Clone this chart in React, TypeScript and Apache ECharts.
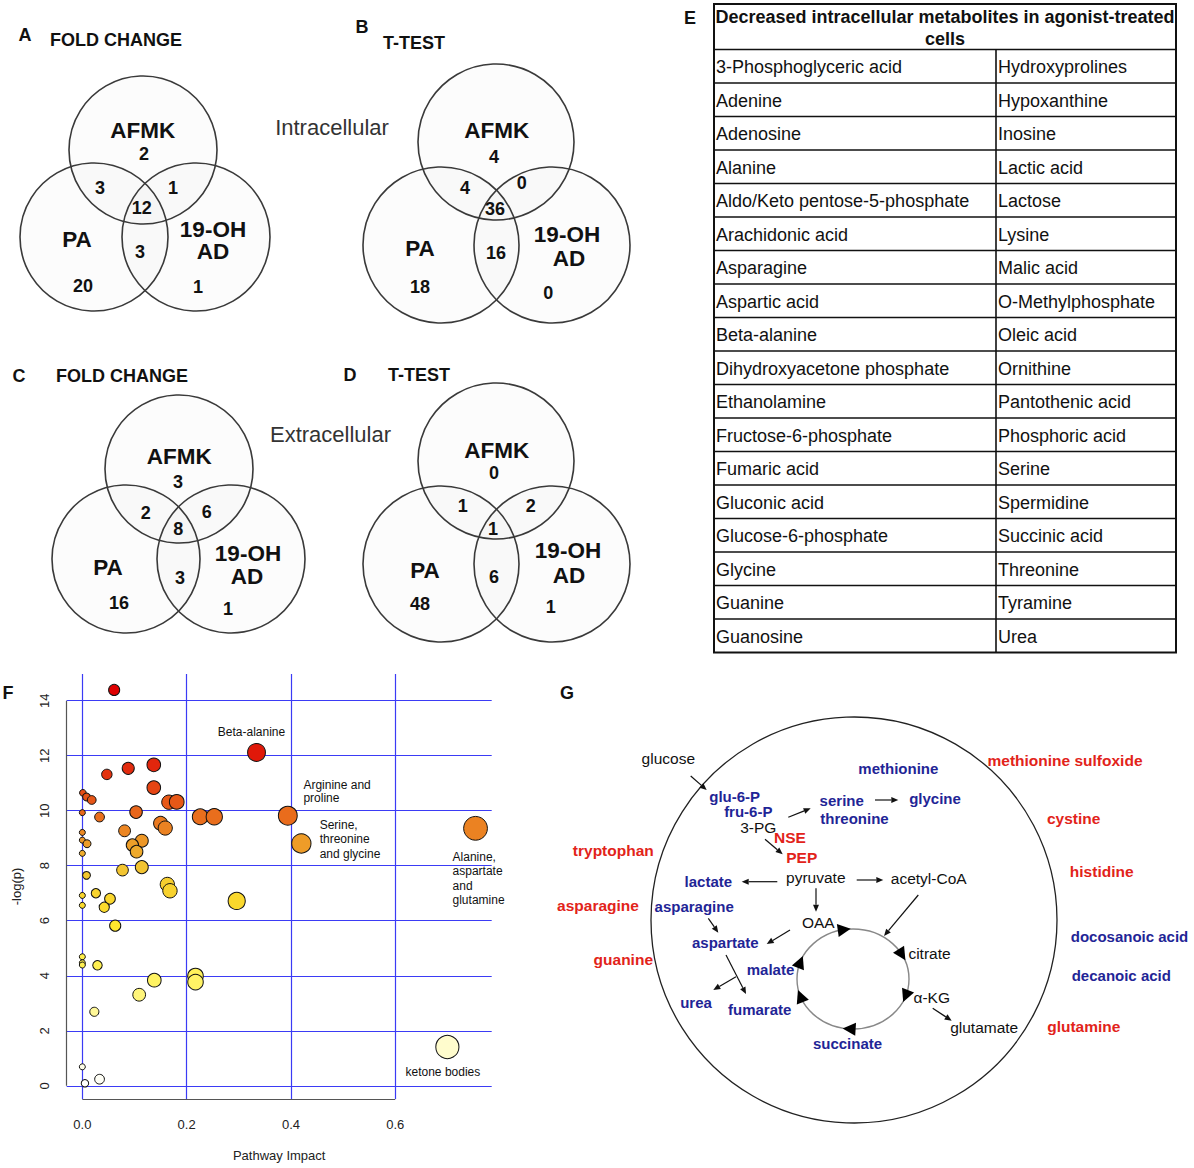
import React, { useEffect, useRef } from "react";
import * as echarts from "echarts";

const FONT = '"Liberation Sans", Arial, Helvetica, sans-serif';
const BLUE = "#1f2596";
const RED = "#e2231a";

// ---------- Panel F: pathway impact scatter ----------
const impact = [
  0.061, 0.047, 0.088, 0.137, 0.137, 0.166, 0.181, 0.001, 0.008, 0.018,
  0.0, 0.033, 0.103, 0.226, 0.253, 0.15, 0.159, 0.081, 0.0, 0.0,
  0.009, 0.114, 0.096, 0.104, 0.0, 0.077, 0.114, 0.008, 0.163, 0.168,
  0.0, 0.026, 0.053, 0.296, 0.0, 0.042, 0.063, 0.0, 0.0, 0.0,
  0.029, 0.138, 0.109, 0.217, 0.217, 0.023, 0.0, 0.005, 0.033,
];
const negLogP = [
  14.39, 11.32, 11.54, 11.67, 10.84, 10.31, 10.32, 10.65, 10.5, 10.39,
  9.93, 9.77, 9.95, 9.78, 9.78, 9.54, 9.37, 9.27, 9.21, 8.93,
  8.8, 8.91, 8.75, 8.51, 8.45, 7.84, 7.95, 7.65, 7.32, 7.09,
  6.92, 7.0, 6.8, 6.72, 6.56, 6.49, 5.82, 4.69, 4.47, 4.39,
  4.38, 3.84, 3.31, 3.99, 3.77, 2.69, 0.69, 0.09, 0.24,
];
const namedPathways = [
  "Beta-alanine",
  "Arginine and\nproline",
  "Serine,\nthreonine\nand glycine",
  "Alanine,\naspartate\nand\nglutamine",
  "ketone bodies",
];
const namedImpact = [0.334, 0.394, 0.42, 0.754, 0.7];
const namedNegLogP = [12.12, 9.82, 8.81, 9.36, 1.41];
const xTicks = [0, 0.2, 0.4, 0.6];
const yTicks = [0, 2, 4, 6, 8, 10, 12, 14];

// label placement (style only)
const namedLabelStyle = [
  { align: "center", offset: [-5, -20], lineHeight: 13 },
  { align: "left", offset: [15.6, -24], lineHeight: 13.3 },
  { align: "left", offset: [18.3, -4], lineHeight: 14.2 },
  { align: "left", offset: [-23, 50], lineHeight: 14.4 },
  { align: "center", offset: [-4.5, 25.3], lineHeight: 13 },
];

// ---------- Venn panels A-D ----------
// order: AFMK only, AFMK∩PA, AFMK∩19-OH AD, all three, PA∩19-OH AD, PA only, 19-OH AD only
const vennA = [2, 3, 1, 12, 3, 20, 1];
const vennB = [4, 4, 0, 36, 16, 18, 0];
const vennC = [3, 2, 6, 8, 3, 16, 1];
const vennD = [0, 1, 2, 1, 6, 48, 1];
const vennSetNames = ["AFMK", "PA", "19-OH", "AD"];
const vennTitles = ["FOLD CHANGE", "T-TEST", "FOLD CHANGE", "T-TEST"];
const vennLetters = ["A", "B", "C", "D"];

// ---------- Table E ----------
const tableTitle = ["Decreased intracellular metabolites in agonist-treated", "cells"];
const tableLeft = [
  "3-Phosphoglyceric acid", "Adenine", "Adenosine", "Alanine",
  "Aldo/Keto pentose-5-phosphate", "Arachidonic acid", "Asparagine",
  "Aspartic acid", "Beta-alanine", "Dihydroxyacetone phosphate",
  "Ethanolamine", "Fructose-6-phosphate", "Fumaric acid", "Gluconic acid",
  "Glucose-6-phosphate", "Glycine", "Guanine", "Guanosine",
];
const tableRight = [
  "Hydroxyprolines", "Hypoxanthine", "Inosine", "Lactic acid", "Lactose",
  "Lysine", "Malic acid", "O-Methylphosphate", "Oleic acid", "Ornithine",
  "Pantothenic acid", "Phosphoric acid", "Serine", "Spermidine",
  "Succinic acid", "Threonine", "Tyramine", "Urea",
];

// ---------- Panel G ----------
const gDecreased = ["glu-6-P", "fru-6-P", "serine", "threonine", "glycine", "methionine",
  "lactate", "asparagine", "aspartate", "malate", "urea", "fumarate", "succinate",
  "docosanoic acid", "decanoic acid"];
const gIncreased = ["NSE", "PEP", "tryptophan", "asparagine", "guanine",
  "methionine sulfoxide", "cystine", "histidine", "glutamine"];
const gNeutral = ["glucose", "3-PG", "pyruvate", "acetyl-CoA", "OAA", "citrate", "α-KG", "glutamate"];

// layout positions (x, y centres)
const gDecreasedPos = [
  [734.7, 796], [748.3, 811], [841.7, 800], [854.5, 818.3], [935, 798.3], [898.3, 768.3],
  [708.3, 881.7], [694.2, 906], [725.3, 942.3], [770.5, 969.3], [696, 1002.3], [759.7, 1009.3],
  [847.5, 1043.3], [1129.5, 936.7], [1121.3, 975],
];
const gIncreasedPos = [
  [790, 837.3], [801.7, 857.3], [613.3, 850], [598, 905], [623.3, 959.3],
  [1065, 760.7], [1073.7, 818.3], [1101.7, 871.7], [1083.8, 1026.7],
];
const gNeutralPos = [
  [668.3, 758.3], [758.3, 827.3], [815.8, 877.3], [928.7, 878.3], [818.3, 922.7],
  [929.5, 953.3], [931.7, 997.7], [984.2, 1027.3],
];
const gArrows = [
  [690.7, 776, 706.7, 790], [788.3, 817.3, 810.7, 808.3], [875, 800, 898.3, 800],
  [765, 839.3, 782.7, 854.3], [777.3, 881.7, 741.7, 881.7], [856.7, 880, 883.3, 880],
  [918.3, 895, 884, 936], [816, 888.3, 816, 911.7], [790, 930, 766.7, 944],
  [708.3, 918.3, 718.3, 932.7], [726, 955, 746, 994], [736, 976.7, 713.3, 990],
  [932.7, 1008.3, 951.7, 1020.7],
];
const tcaArrowAngles = [-99, -29, 20, 94, 160, 200];

function text(x: number, y: number, t: string, o: any = {}) {
  const align = o.align || "center";
  const va = o.va || "middle";
  return {
    type: "text",
    x,
    y,
    silent: true,
    z: 10,
    style: {
      text: t,
      fontSize: o.size || 16,
      fontWeight: o.weight || "normal",
      fontFamily: FONT,
      fill: o.color || "#111",
      textAlign: align,
      textVerticalAlign: va,
      align,
      verticalAlign: va,
      lineHeight: o.lineHeight,
    },
  };
}

function line(x1: number, y1: number, x2: number, y2: number, stroke = "#111", lw = 1.2) {
  return { type: "line", silent: true, shape: { x1, y1, x2, y2 }, style: { stroke, lineWidth: lw } };
}

function arrow(x1: number, y1: number, x2: number, y2: number) {
  const dx = x2 - x1, dy = y2 - y1;
  const len = Math.sqrt(dx * dx + dy * dy);
  const ux = dx / len, uy = dy / len;
  const hl = 7, hw = 3;
  const bx = x2 - ux * hl, by = y2 - uy * hl;
  return [
    line(x1, y1, bx, by),
    {
      type: "polygon",
      silent: true,
      shape: { points: [[x2, y2], [bx - uy * hw, by + ux * hw], [bx + uy * hw, by - ux * hw]] },
      style: { fill: "#111" },
    },
  ];
}

type VennLayout = {
  letter: [number, number];
  title: [number, number];
  circles: [number, number][];
  r: number;
  labels: [number, number][];
  nums: [number, number][];
};

const vennLayouts: VennLayout[] = [
  {
    letter: [25, 35], title: [50, 40],
    circles: [[143, 150], [94, 237], [196, 237]], r: 74,
    labels: [[142.7, 130], [77, 239], [213, 229], [213, 251.7]],
    nums: [[144, 154], [100, 188], [173, 187.7], [141.7, 208.3], [140, 251.7], [83, 286], [198, 286.7]],
  },
  {
    letter: [362, 27], title: [383, 43],
    circles: [[496, 142], [441, 245], [552, 245]], r: 78,
    labels: [[496.7, 130.7], [420, 248.3], [567, 234], [569, 258]],
    nums: [[494, 156.7], [465, 188.3], [521.7, 182.7], [495, 209.3], [496, 253.3], [420, 286.7], [548.3, 293.3]],
  },
  {
    letter: [19, 376], title: [56, 376],
    circles: [[179, 469], [126, 559], [231, 559]], r: 74,
    labels: [[179.3, 456.7], [108, 567], [248, 553], [247, 576]],
    nums: [[178, 481.7], [145.7, 512.7], [206.7, 511.7], [178.3, 529.3], [180, 577.7], [119, 603], [228, 609]],
  },
  {
    letter: [350, 375], title: [388, 375],
    circles: [[496, 461], [441, 564], [552, 564]], r: 78,
    labels: [[496.7, 450], [425, 570], [568, 550], [569, 575]],
    nums: [[494, 473], [462.7, 505.7], [530.7, 505.7], [493, 529], [494, 577], [420, 604], [550.7, 606.7]],
  },
];

function buildGraphics() {
  const els: any[] = [];
  const vennData = [vennA, vennB, vennC, vennD];
  vennLayouts.forEach((L, i) => {
    els.push(text(L.letter[0], L.letter[1], vennLetters[i], { size: 18, weight: "bold" }));
    els.push(text(L.title[0], L.title[1], vennTitles[i], { size: 18, weight: "bold", align: "left" }));
    L.circles.forEach(([cx, cy]) => {
      els.push({
        type: "circle", silent: true, z: 5,
        shape: { cx, cy, r: L.r },
        style: { fill: "rgba(0,0,0,0.012)", stroke: "#3a3a3a", lineWidth: 1.6 },
      });
    });
    L.labels.forEach(([x, y], k) => {
      els.push(text(x, y, vennSetNames[k], { size: 22.5, weight: "bold" }));
    });
    L.nums.forEach(([x, y], k) => {
      els.push(text(x, y, String(vennData[i][k]), { size: 18, weight: "bold" }));
    });
  });
  els.push(text(332, 127, "Intracellular", { size: 22, color: "#333" }));
  els.push(text(330.5, 434, "Extracellular", { size: 22, color: "#333" }));

  // Table E
  const tL = 714, tR = 1176, tT = 4, hB = 49.5, rowH = 33.5, colX = 996;
  const tB = hB + rowH * tableLeft.length;
  els.push(text(690, 18, "E", { size: 18, weight: "bold" }));
  els.push({
    type: "rect", silent: true, z: 5,
    shape: { x: tL, y: tT, width: tR - tL, height: tB - tT },
    style: { fill: "none", stroke: "#111", lineWidth: 2 },
  });
  for (let i = 0; i < tableLeft.length; i++) {
    els.push(line(tL, hB + rowH * i, tR, hB + rowH * i, "#111", 1.6));
  }
  els.push(line(colX, hB, colX, tB, "#111", 1.6));
  els.push(text((tL + tR) / 2, 17, tableTitle[0], { size: 18, weight: "bold" }));
  els.push(text((tL + tR) / 2, 39, tableTitle[1], { size: 18, weight: "bold" }));
  tableLeft.forEach((t, i) => {
    els.push(text(tL + 2, hB + rowH * (i + 0.5) + 1, t, { size: 18, align: "left" }));
  });
  tableRight.forEach((t, i) => {
    els.push(text(colX + 2, hB + rowH * (i + 0.5) + 1, t, { size: 18, align: "left" }));
  });

  // Panel letters F, G
  els.push(text(8, 693, "F", { size: 18, weight: "bold" }));
  els.push(text(567, 693, "G", { size: 18, weight: "bold" }));

  // Panel G
  els.push({
    type: "circle", silent: true, z: 5,
    shape: { cx: 854, cy: 920, r: 203 },
    style: { fill: "none", stroke: "#222", lineWidth: 1.3 },
  });
  const ecx = 853, ecy = 979, erx = 56, ery = 50;
  els.push({
    type: "ellipse", silent: true, z: 5,
    shape: { cx: ecx, cy: ecy, rx: erx, ry: ery },
    style: { fill: "none", stroke: "#888", lineWidth: 1.4 },
  });
  tcaArrowAngles.forEach((deg) => {
    const t = (deg * Math.PI) / 180;
    const px = ecx + erx * Math.cos(t), py = ecy + ery * Math.sin(t);
    let dx = -erx * Math.sin(t), dy = ery * Math.cos(t);
    const l = Math.sqrt(dx * dx + dy * dy);
    dx /= l; dy /= l;
    const hl = 13, hw = 6.5;
    const tip = [px + dx * hl * 0.5, py + dy * hl * 0.5];
    const b = [px - dx * hl * 0.5, py - dy * hl * 0.5];
    els.push({
      type: "polygon", silent: true, z: 6,
      shape: { points: [tip, [b[0] - dy * hw, b[1] + dx * hw], [b[0] + dy * hw, b[1] - dx * hw]] },
      style: { fill: "#000" },
    });
  });
  gArrows.forEach(([a, b, c, d]) => arrow(a, b, c, d).forEach((e: any) => els.push({ ...e, z: 6 })));
  gDecreased.forEach((t, i) => {
    els.push(text(gDecreasedPos[i][0], gDecreasedPos[i][1], t, { size: 15, weight: "bold", color: BLUE }));
  });
  gIncreased.forEach((t, i) => {
    els.push(text(gIncreasedPos[i][0], gIncreasedPos[i][1], t, { size: 15.5, weight: "bold", color: RED }));
  });
  gNeutral.forEach((t, i) => {
    els.push(text(gNeutralPos[i][0], gNeutralPos[i][1], t, { size: 15.5, color: "#111" }));
  });
  return els;
}

export default function App() {
  const ref = useRef<HTMLDivElement>(null);
  useEffect(() => {
    if (!ref.current) return;
    const chart = echarts.init(ref.current, undefined, { renderer: "svg" });
    const xMin = -0.03, xMax = 0.785, yMin = -0.48, yMax = 14.97;
    const sizeOf = (v: number[]) => 6 + 20.5 * Math.sqrt(Math.max(0, v[0]));
    const mainData: any[] = impact.map((x, i) => [x, negLogP[i]]);
    namedPathways.forEach((name, i) => {
      const s = namedLabelStyle[i];
      mainData.push({
        name,
        value: [namedImpact[i], namedNegLogP[i]],
        label: {
          show: true,
          formatter: name,
          position: "inside",
          align: s.align,
          verticalAlign: "middle",
          offset: s.offset,
          lineHeight: s.lineHeight,
          color: "#111",
          fontSize: 12,
          fontFamily: FONT,
        },
      });
    });
    chart.setOption({
      animation: false,
      backgroundColor: "#fff",
      textStyle: { fontFamily: FONT },
      grid: { left: 66.7, top: 674, width: 425, height: 425 },
      xAxis: {
        type: "value",
        min: xMin,
        max: xMax,
        name: "Pathway Impact",
        nameLocation: "middle",
        nameGap: 50,
        nameTextStyle: { fontSize: 13, color: "#222", fontFamily: FONT },
        axisLine: { show: false },
        splitLine: { show: false },
        axisTick: { show: true, length: 7, customValues: xTicks, lineStyle: { color: "#555", width: 1 } },
        axisLabel: {
          customValues: xTicks,
          formatter: (v: number) => v.toFixed(1),
          fontSize: 13,
          color: "#222",
          margin: 19,
          fontFamily: FONT,
        },
      },
      yAxis: {
        type: "value",
        min: yMin,
        max: yMax,
        name: "-log(p)",
        nameLocation: "middle",
        nameGap: 44,
        nameTextStyle: { fontSize: 13, color: "#222", fontFamily: FONT },
        axisLine: { show: false },
        splitLine: { show: false },
        axisTick: { show: true, length: 7, customValues: yTicks, lineStyle: { color: "#555", width: 1 } },
        axisLabel: {
          customValues: yTicks,
          rotate: 90,
          fontSize: 13,
          color: "#222",
          margin: 16,
          fontFamily: FONT,
        },
      },
      visualMap: {
        show: false,
        type: "continuous",
        seriesIndex: 2,
        dimension: 1,
        min: 0,
        max: 14,
        inRange: {
          color: ["#ffffff", "#fffbb8", "#fff25a", "#ffe52a", "#f2c232", "#e8641a", "#e01a0a", "#df0000"],
        },
      },
      series: [
        {
          type: "scatter",
          data: [],
          silent: true,
          z: 1,
          markLine: {
            z: 1,
            silent: true,
            symbol: ["none", "none"],
            label: { show: false },
            lineStyle: { color: "#3b3bf5", width: 1.2, type: "solid" },
            data: [...xTicks.map((v) => ({ xAxis: v })), ...yTicks.map((v) => ({ yAxis: v }))],
          },
        },
        {
          type: "scatter",
          data: [],
          silent: true,
          z: 1,
          markLine: {
            z: 2,
            silent: true,
            symbol: ["none", "none"],
            label: { show: false },
            lineStyle: { color: "#555", width: 1.2, type: "solid" },
            data: [
              [{ coord: [xTicks[0], yMin] }, { coord: [xTicks[xTicks.length - 1], yMin] }],
              [{ coord: [xMin, yTicks[0]] }, { coord: [xMin, yTicks[yTicks.length - 1]] }],
            ],
          },
        },
        {
          type: "scatter",
          z: 10,
          data: mainData,
          symbol: "circle",
          symbolSize: sizeOf,
          itemStyle: { borderColor: "#111", borderWidth: 1, opacity: 1 },
          emphasis: { disabled: true },
        },
      ],
      graphic: { elements: buildGraphics() },
    });
    return () => chart.dispose();
  }, []);
  return (
    <div
      ref={ref}
      style={{ position: "absolute", left: 0, top: 0, width: 1194, height: 1168, background: "#fff" }}
    />
  );
}
